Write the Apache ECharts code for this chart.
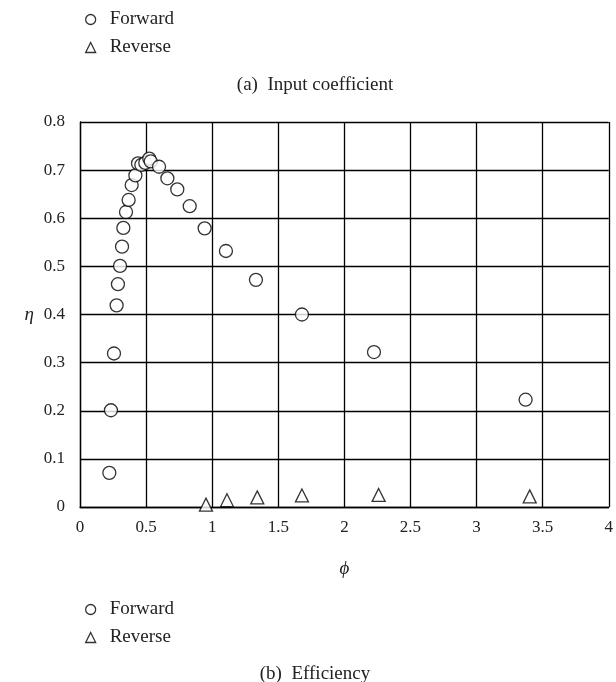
<!DOCTYPE html>
<html><head><meta charset="utf-8">
<script src="https://cdn.jsdelivr.net/npm/echarts@6/dist/echarts.min.js"></script>
<style>html,body{margin:0;padding:0;background:#fff}#c{width:616px;height:682px}</style>
</head><body><div id="c"></div>
<script>
const forwardX = [0.222,0.234,0.257,0.277,0.287,0.303,0.318,0.328,0.348,0.368,0.391,0.419,0.439,0.464,0.494,0.524,0.535,0.598,0.661,0.736,0.830,0.943,1.104,1.331,1.679,2.224,3.371];
const forwardY = [0.071,0.201,0.319,0.419,0.463,0.501,0.541,0.580,0.613,0.638,0.669,0.689,0.714,0.711,0.715,0.724,0.718,0.707,0.683,0.660,0.625,0.579,0.532,0.472,0.400,0.322,0.223];
const reverseX = [0.953,1.112,1.341,1.679,2.259,3.402];
const reverseY = [0.005,0.014,0.020,0.024,0.025,0.022];
const xTicks = [0,0.5,1,1.5,2,2.5,3,3.5,4];
const yTicks = [0,0.1,0.2,0.3,0.4,0.5,0.6,0.7,0.8];

const serif = '"Liberation Serif", "DejaVu Serif", serif';
const chart = echarts.init(document.getElementById('c'));
const mk = {color:'#fff', borderColor:'#000', borderWidth:1.3};
const legendCommon = {
  orient:'vertical', left:80, itemGap:9, itemWidth:10, itemHeight:10,
  itemStyle:{color:'#fff', borderColor:'#000', borderWidth:1.3},
  textStyle:{fontFamily:serif, fontSize:19, color:'#222', padding:[0,0,0,9]},
  data:[{name:'Forward', icon:'circle'},{name:'Reverse', icon:'triangle'}],
  selectedMode:false
};
chart.setOption({
  animation:false,
  title:[
    {text:'(a)  Input coefficient', left:310, top:71, textAlign:'center', textStyle:{fontFamily:serif, fontSize:19, fontWeight:'normal', color:'#222'}},
    {text:'(b)  Efficiency', left:310, top:660, textAlign:'center', textStyle:{fontFamily:serif, fontSize:19, fontWeight:'normal', color:'#222'}}
  ],
  legend:[
    Object.assign({top:5}, legendCommon),
    Object.assign({top:595}, legendCommon)
  ],
  grid:{left:80, right:7, top:122, bottom:175},
  xAxis:{
    type:'value', min:0, max:4, interval:0.5,
    name:'ϕ', nameLocation:'middle', nameGap:52,
    nameTextStyle:{fontFamily:serif, fontSize:19, fontStyle:'italic', color:'#222'},
    axisLine:{show:true, lineStyle:{color:'#000', width:1.3}},
    axisTick:{show:false},
    axisLabel:{fontFamily:serif, fontSize:17, color:'#222', margin:12,
      formatter:v=>{const t=xTicks.find(k=>Math.abs(k-v)<1e-9);return t===undefined?'':String(t);}},
    splitLine:{show:true, lineStyle:{color:'#000', width:1.3}}
  },
  yAxis:{
    type:'value', min:0, max:0.8, interval:0.1,
    name:'η', nameLocation:'middle', nameGap:46, nameRotate:0,
    nameTextStyle:{fontFamily:serif, fontSize:19, fontStyle:'italic', color:'#222'},
    axisLine:{show:true, lineStyle:{color:'#000', width:1.3}},
    axisTick:{show:false},
    axisLabel:{fontFamily:serif, fontSize:17, color:'#222', margin:15,
      formatter:v=>{const t=yTicks.find(k=>Math.abs(k-v)<1e-9);return t===undefined?'':String(t);}},
    splitLine:{show:true, lineStyle:{color:'#000', width:1.3}}
  },
  series:[
    {name:'Forward', type:'scatter', symbol:'circle', symbolSize:13, itemStyle:mk,
     data:forwardX.map((x,i)=>[x,forwardY[i]])},
    {name:'Reverse', type:'scatter', symbol:'triangle', symbolSize:13, itemStyle:mk,
     data:reverseX.map((x,i)=>[x,reverseY[i]])}
  ]
});
</script></body></html>
